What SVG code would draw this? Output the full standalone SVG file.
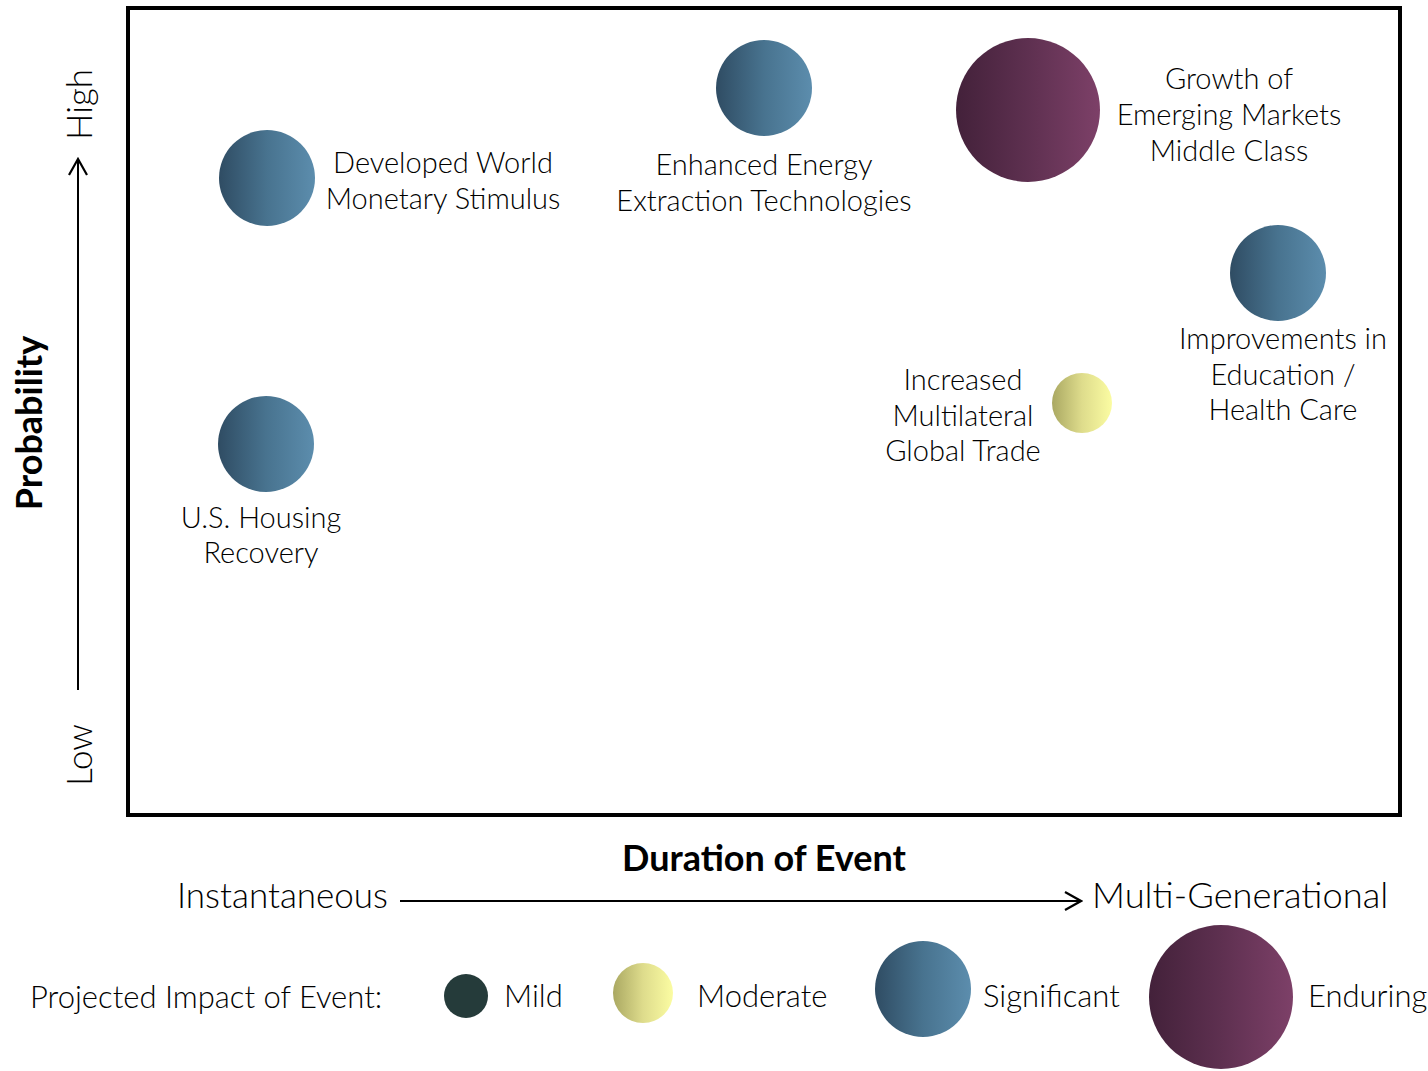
<svg xmlns="http://www.w3.org/2000/svg" width="1428" height="1071" viewBox="0 0 1428 1071">
  <defs>
    <linearGradient id="gBlue" x1="0" y1="0" x2="1" y2="0">
      <stop offset="0" stop-color="#2f4c63"/>
      <stop offset="0.5" stop-color="#48738f"/>
      <stop offset="1" stop-color="#5c8dad"/>
    </linearGradient>
    <linearGradient id="gPurple" x1="0" y1="0" x2="1" y2="0">
      <stop offset="0" stop-color="#43213a"/>
      <stop offset="0.5" stop-color="#5e3050"/>
      <stop offset="1" stop-color="#7d4068"/>
    </linearGradient>
    <linearGradient id="gYellow" x1="0" y1="0" x2="1" y2="0">
      <stop offset="0" stop-color="#aaa862"/>
      <stop offset="0.5" stop-color="#dedc8c"/>
      <stop offset="1" stop-color="#fbfca2"/>
    </linearGradient>
    <marker id="chev" viewBox="0 0 20 20" refX="18" refY="10" markerWidth="20" markerHeight="20" markerUnits="userSpaceOnUse" orient="auto">
      <path d="M2,1 L18,10 L2,19" fill="none" stroke="#000" stroke-width="2.2"/>
    </marker>
  </defs>
  <style>
    text { font-family: Lato, "Open Sans", "Liberation Sans", sans-serif; fill: #000; font-weight: 300; }
    .lbl { font-size: 29px; text-anchor: middle; }
    .axis { font-size: 35px; }
    .title { font-size: 36px; font-weight: bold; fill: #000; }
    .leg { font-size: 31px; }
    .blue { fill: url(#gBlue); }
    .purple { fill: url(#gPurple); }
    .yellow { fill: url(#gYellow); }
    .conn { stroke: #000; stroke-width: 2; fill: none; }
  </style>

  <rect width="1428" height="1071" fill="#fff"/>

  <!-- plot frame -->
  <rect id="frame" x="128" y="8" width="1272" height="807" fill="none" stroke="#000" stroke-width="4"/>

  <!-- axes -->
  <g id="connectors">
    <line class="conn" x1="78" y1="690" x2="78" y2="159" marker-end="url(#chev)"/>
    <line class="conn" x1="400" y1="901" x2="1081" y2="901" marker-end="url(#chev)"/>
  </g>

  <g id="y-axis-labels">
    <text class="axis" transform="translate(92,140) rotate(-90)">High</text>
    <text class="axis" transform="translate(92,786) rotate(-90)">Low</text>
    <text class="title" transform="translate(42,423) rotate(-90)" text-anchor="middle">Probability</text>
  </g>

  <g id="x-axis-labels">
    <text class="title" x="764" y="871" text-anchor="middle">Duration of Event</text>
    <text class="axis" x="177" y="908">Instantaneous</text>
    <text class="axis" x="1092" y="908" style="font-size:36.3px">Multi-Generational</text>
  </g>

  <!-- events -->
  <g id="developed-world">
    <circle class="blue" cx="267" cy="178" r="48"/>
    <text class="lbl" x="443" y="173">Developed World</text>
    <text class="lbl" x="443" y="209">Monetary Stimulus</text>
  </g>

  <g id="enhanced-energy">
    <circle class="blue" cx="764" cy="88" r="48"/>
    <text class="lbl" x="764" y="175">Enhanced Energy</text>
    <text class="lbl" x="764" y="211">Extraction Technologies</text>
  </g>

  <g id="emerging-markets">
    <circle class="purple" cx="1028" cy="110" r="72"/>
    <text class="lbl" x="1229" y="89">Growth of</text>
    <text class="lbl" x="1229" y="125">Emerging Markets</text>
    <text class="lbl" x="1229" y="161">Middle Class</text>
  </g>

  <g id="education-health">
    <circle class="blue" cx="1278" cy="273" r="48"/>
    <text class="lbl" x="1283" y="349">Improvements in</text>
    <text class="lbl" x="1283" y="385">Education /</text>
    <text class="lbl" x="1283" y="420">Health Care</text>
  </g>

  <g id="global-trade">
    <circle class="yellow" cx="1082" cy="403" r="30"/>
    <text class="lbl" x="963" y="390">Increased</text>
    <text class="lbl" x="963" y="426">Multilateral</text>
    <text class="lbl" x="963" y="461">Global Trade</text>
  </g>

  <g id="us-housing">
    <circle class="blue" cx="266" cy="444" r="48"/>
    <text class="lbl" x="261" y="528">U.S. Housing</text>
    <text class="lbl" x="261" y="563">Recovery</text>
  </g>

  <!-- legend -->
  <g id="legend">
    <text class="leg" x="30" y="1008">Projected Impact of Event:</text>
    <g id="legend-mild">
      <circle cx="466" cy="996" r="22" fill="#253b3a"/>
      <text class="leg" x="504" y="1007">Mild</text>
    </g>
    <g id="legend-moderate">
      <circle class="yellow" cx="643" cy="993" r="30"/>
      <text class="leg" x="697" y="1007">Moderate</text>
    </g>
    <g id="legend-significant">
      <circle class="blue" cx="923" cy="989" r="48"/>
      <text class="leg" x="983" y="1007">Significant</text>
    </g>
    <g id="legend-enduring">
      <circle class="purple" cx="1221" cy="997" r="72"/>
      <text class="leg" x="1308" y="1007">Enduring</text>
    </g>
  </g>
</svg>
